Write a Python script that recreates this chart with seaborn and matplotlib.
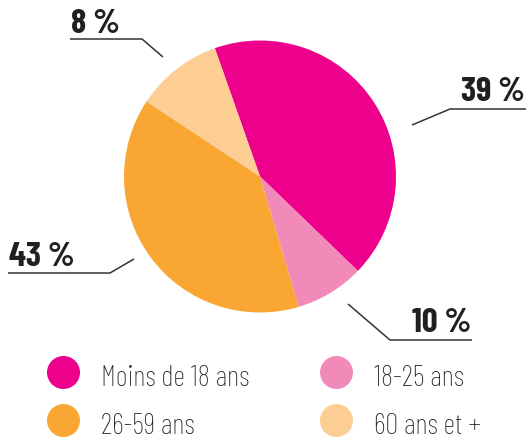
import matplotlib
matplotlib.use("Agg")
import matplotlib.pyplot as plt
import seaborn as sns

# data (slice sizes as drawn; labels as printed on the chart)
categories = ["Moins de 18 ans", "18-25 ans", "26-59 ans", "60 ans et +"]
shares = [42.6, 8.2, 38.9, 10.3]
labels = ["39 %", "10 %", "43 %", "8 %"]
colors = ["#EC008C", "#F28AB9", "#F9A633", "#FDCE93"]

W, H = 527, 441
sns.set_theme(style="white")
plt.rcParams["font.family"] = ["Barlow Condensed", "DejaVu Sans"]
ink = "#231F20"


def py(y):
    # pixel row (from top) -> data y (from bottom)
    return H - y


fig = plt.figure(figsize=(W / 100, H / 100), dpi=100)
ax = fig.add_axes([0, 0, 1, 1])

ax.pie(shares, colors=colors, startangle=109.4, counterclock=False,
       center=(260, py(176.5)), radius=136, frame=True,
       wedgeprops=dict(linewidth=0))
ax.set_xlim(0, W)
ax.set_ylim(0, H)
ax.set_aspect("equal")
ax.axis("off")

# leader lines and percentage labels (pixel positions)
leaders = {
    "39 %": [(412, 125), (450, 109), (526, 109)],
    "10 %": [(348, 304), (390, 340), (472, 340)],
    "43 %": [(134, 259), (110, 273), (8, 273)],
    "8 %": [(163, 57), (142, 39), (70, 39)],
}
label_pos = {
    "39 %": (525, 101, "right"),
    "10 %": (471, 332, "right"),
    "43 %": (9, 266, "left"),
    "8 %": (71, 33, "left"),
}
for lab in labels:
    pts = leaders[lab]
    ax.plot([p[0] for p in pts], [py(p[1]) for p in pts], color="#333333", lw=1.1,
            solid_capstyle="butt")
    x, y, ha = label_pos[lab]
    ax.text(x, py(y), lab, ha=ha, va="baseline", fontsize=25, weight="bold", color=ink)

# legend
legend_xy = [(63, 372), (336, 372), (63, 420), (336, 420)]
for cat, col, (cx, cy) in zip(categories, colors, legend_xy):
    ax.scatter([cx], [py(cy)], s=(33 * 0.72) ** 2, color=col, linewidths=0, clip_on=False)
    ax.text(cx + 38, py(cy + 14), cat, ha="left", va="baseline", fontsize=21,
            weight="light", color=ink)

fig.savefig("out.png", dpi=100)
